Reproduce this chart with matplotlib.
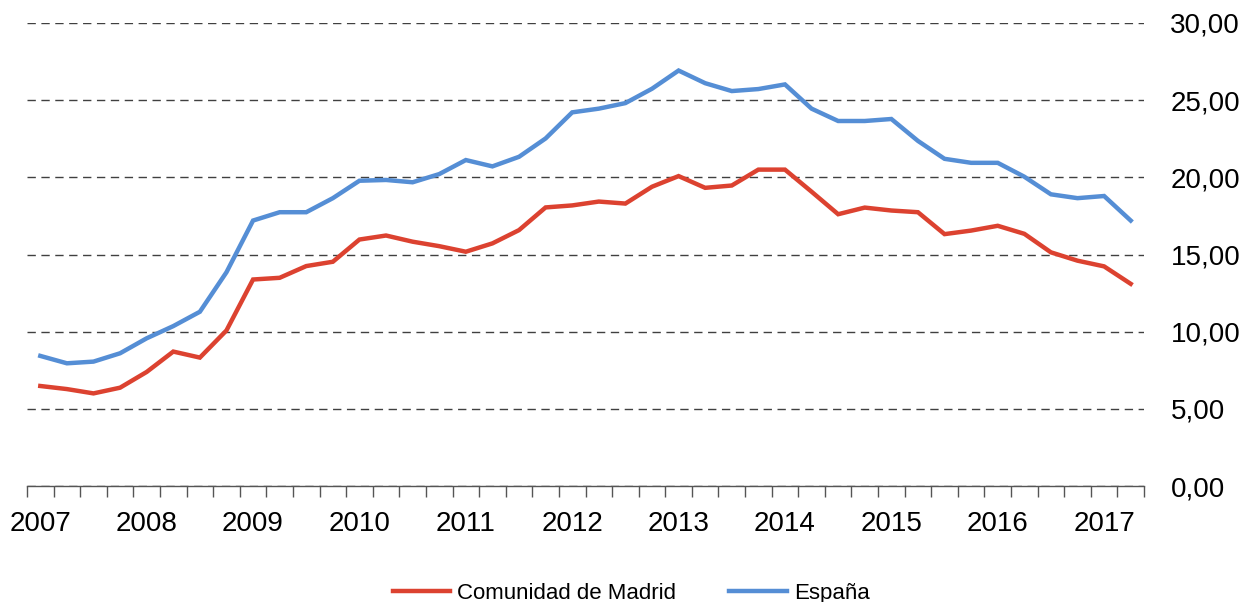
import matplotlib
matplotlib.use("Agg")
import matplotlib.pyplot as plt
from matplotlib.ticker import FixedLocator, FuncFormatter

plt.rcParams['font.family'] = ['Liberation Sans', 'DejaVu Sans']

# quarterly series, 2007 Q1 .. 2017 Q2
years = [2007, 2008, 2009, 2010, 2011, 2012, 2013, 2014, 2015, 2016, 2017]
madrid = [6.48, 6.28, 6.00, 6.37, 7.39, 8.71, 8.32, 10.08, 13.38, 13.49,
          14.25, 14.53, 15.97, 16.23, 15.83, 15.54, 15.18, 15.72, 16.58, 18.05,
          18.18, 18.43, 18.30, 19.39, 20.08, 19.32, 19.47, 20.50, 20.50, 19.07,
          17.61, 18.04, 17.85, 17.74, 16.32, 16.55, 16.86, 16.34, 15.14, 14.60,
          14.23, 13.10]
espana = [8.43, 7.95, 8.06, 8.60, 9.57, 10.36, 11.29, 13.85, 17.20, 17.74,
          17.74, 18.65, 19.78, 19.83, 19.68, 20.21, 21.12, 20.71, 21.33, 22.52,
          24.21, 24.45, 24.81, 25.74, 26.92, 26.10, 25.59, 25.72, 26.02, 24.45,
          23.65, 23.65, 23.78, 22.36, 21.20, 20.94, 20.94, 20.04, 18.90, 18.65,
          18.79, 17.20]
yticks = [0, 5, 10, 15, 20, 25, 30]

n = len(madrid)
x = list(range(n))

fig = plt.figure(figsize=(12.52, 6.02), dpi=100)
ax = fig.add_axes([27 / 1252, 1 - 486 / 602, (1144 - 27) / 1252, (486 - 23) / 602])

ax.plot(x, madrid, color='#DC4230', lw=3.2, label='Comunidad de Madrid', solid_joinstyle='miter')
ax.plot(x, espana, color='#558ED5', lw=3.2, label='España', solid_joinstyle='miter')

ax.set_xlim(-0.5, n - 0.5)
ax.set_ylim(0, 30)

# y axis on the right, labels only
ax.yaxis.tick_right()
ax.set_yticks(yticks)
ax.yaxis.set_major_formatter(FuncFormatter(lambda v, p: f"{v:.2f}".replace('.', ',')))
ax.tick_params(axis='y', length=0, pad=19, labelsize=20)
for lab in ax.get_yticklabels():
    lab.set_horizontalalignment('left')
ax.yaxis.grid(True, color='#404040', lw=1, linestyle=(0, (6, 4)))

# x axis: tick marks between quarters, year labels on Q1
ax.xaxis.set_major_locator(FixedLocator([i - 0.5 for i in range(n + 1)]))
ax.xaxis.set_major_formatter(FuncFormatter(lambda v, p: ''))
q1 = [4 * i for i in range(len(years))]
ax.xaxis.set_minor_locator(FixedLocator(q1))
ax.set_xticklabels([str(y) for y in years], minor=True)
ax.tick_params(axis='x', which='major', length=8, width=1, color='#555555', direction='out')
ax.tick_params(axis='x', which='minor', length=0, pad=18, labelsize=20)

for s in ['top', 'right', 'left']:
    ax.spines[s].set_visible(False)
ax.spines['bottom'].set_color('#555555')
ax.spines['bottom'].set_linewidth(1)
ax.set_axisbelow(True)

fig.legend(loc='center', bbox_to_anchor=(0.504, 0.014), ncol=2, frameon=False,
           fontsize=16, handlelength=2.6, handletextpad=0.3, columnspacing=2.4)

fig.savefig('out.png', dpi=100)
